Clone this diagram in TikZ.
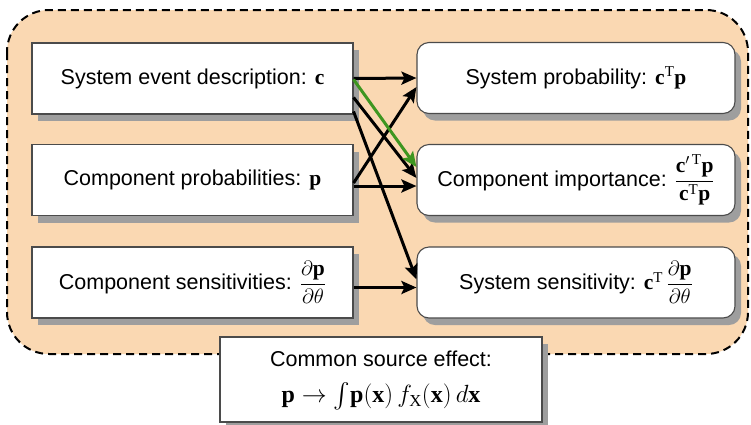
\documentclass[tikz,border=0pt]{standalone}
\usepackage{amsmath}
\usepackage{fontspec}
\setmainfont{Liberation Sans}
\newfontfamily\tms{Liberation Serif}
\usetikzlibrary{arrows.meta,shadows}
\definecolor{peach}{RGB}{250,216,178}
\definecolor{shadowgray}{RGB}{158,158,158}
\definecolor{arrowgreen}{RGB}{62,150,32}
\definecolor{boxborder}{RGB}{75,75,75}
\newcommand{\bv}[1]{\text{\tms\bfseries #1}}
\newcommand{\tT}{\text{\tms T}}
\tikzset{
  leftbox/.style={draw=boxborder, line width=1.1pt, fill=white, rectangle,
    minimum width=321pt, minimum height=71pt, inner sep=0pt,
    drop shadow={shadow xshift=6pt, shadow yshift=-7pt, fill=shadowgray, opacity=1}},
  rightbox/.style={leftbox, rounded corners=12pt, minimum width=318pt},
  arr/.style={line width=3pt, -{Stealth[length=15pt,width=13pt,inset=3pt]}},
  txt/.style={font=\fontsize{21.5}{25}\selectfont, inner sep=0pt}
}
\begin{document}
\begin{tikzpicture}[x=1pt,y=-1pt]
\useasboundingbox (0,0) rectangle (751,424);
\draw[fill=peach, dashed, dash pattern=on 8pt off 5pt, line width=2pt, rounded corners=42pt]
  (7,10) rectangle (748,354);

\node[leftbox, txt] (L1) at (192.5,78.5) {System event description: $\bv{c}$};
\node[leftbox, txt] (L2) at (192.5,180) {Component probabilities: $\bv{p}$};
\node[leftbox, txt] (L3) at (192.5,282.5) {Component sensitivities: $\dfrac{\partial\bv{p}}{\partial\theta}$};

\node[rightbox, txt] (R1) at (576,78) {System probability: $\bv{c}^{\tT}\bv{p}$};
\node[rightbox, txt] (R2) at (576,180) {Component importance: $\dfrac{\bv{c}'^{\,\tT}\bv{p}}{\bv{c}^{\tT}\bv{p}}$};
\node[rightbox, txt] (R3) at (576,282.5) {System sensitivity: $\bv{c}^{\tT}\,\dfrac{\partial\bv{p}}{\partial\theta}$};

\node[leftbox, minimum width=322pt, minimum height=85pt] (B) at (381,379.5) {};
\node[txt, anchor=base] (B1) at ([yshift=13pt]B.center) {Common source effect:};
\node[txt, anchor=base] (B2) at ([yshift=-23pt]B.center)
  {\fontsize{24}{26}\selectfont$\bv{p}\rightarrow\int\!\bv{p}(\bv{x})\,f_{\text{\tms X}}(\bv{x})\,d\bv{x}$};

\draw[arr] (L1.east) -- (R1.west);
\draw[arr] ([yshift=-3pt]L2.east) -- ([yshift=-9pt]R1.west);
\draw[arr] ([yshift=-19pt]L1.east) -- ([yshift=2pt]R2.west);
\draw[arr] ([yshift=-33pt]L1.east) -- ([yshift=3pt]R3.west);
\draw[arr] ([yshift=-6pt]L2.east) -- ([yshift=-6pt]R2.west);
\draw[arr] ([yshift=-5pt]L3.east) -- ([yshift=-5pt]R3.west);
\draw[arr, draw=arrowgreen, fill=arrowgreen] ([yshift=-1pt]L1.east) -- ([yshift=13pt]R2.west);
\end{tikzpicture}
\end{document}
